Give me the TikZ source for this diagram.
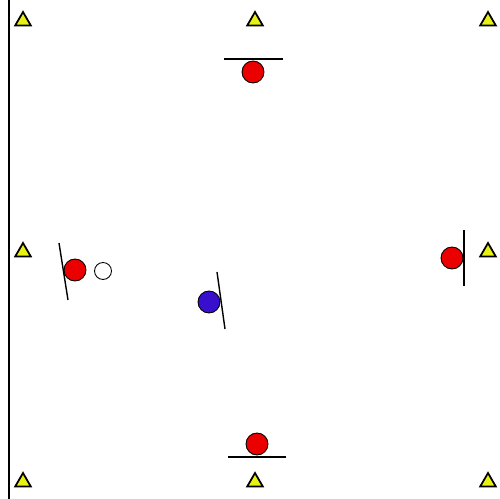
\documentclass[tikz,border=0pt]{standalone}
\usepackage{xcolor}
\usetikzlibrary{shapes.geometric}

\definecolor{coneyellow}{RGB}{232,240,20}
\definecolor{teamred}{RGB}{235,0,0}
\definecolor{teamblue}{RGB}{55,15,205}

\begin{document}
\begin{tikzpicture}[x=0.02cm,y=-0.02cm,
    cone/.style={draw, line width=1pt, fill=coneyellow, regular polygon, regular polygon sides=3, minimum size=0.36cm, inner sep=0pt},
    redplayer/.style={draw, line width=0.5pt, fill=teamred, circle, minimum size=0.44cm, inner sep=0pt},
    blueplayer/.style={draw, line width=0.5pt, fill=teamblue, circle, minimum size=0.44cm, inner sep=0pt},
    ball/.style={draw, line width=0.5pt, fill=white, circle, minimum size=0.34cm, inner sep=0pt},
    gate/.style={line width=0.8pt}]
        \useasboundingbox (0,0) rectangle (500,499);

        % Sideline
        \coordinate (l1) at (9,0);
        \coordinate (l2) at (9,499);
        \draw[line width=1.1pt] (l1) -- (l2);

        % Cones
        \node (k1) [cone] at (23,21) {};
        \node (k2) [cone] at (255,21) {};
        \node (k3) [cone] at (488,21) {};
        \node (k4) [cone] at (23,252) {};
        \node (k5) [cone] at (488,252) {};
        \node (k6) [cone] at (23,482) {};
        \node (k7) [cone] at (255,482) {};
        \node (k8) [cone] at (488,482) {};

        % Players
        \node (p1) [redplayer] at (253,72) {};
        \node (p2) [redplayer] at (75,270) {};
        \node (p3) [redplayer] at (452,258) {};
        \node (p4) [redplayer] at (257,444) {};
        \node (p5) [blueplayer] at (209,302) {};
        \node (b1) [ball] at (103,271) {};

        % Body lines
        \coordinate (g1a) at (224,59);  \coordinate (g1b) at (283,59);
        \coordinate (g2a) at (59,243);  \coordinate (g2b) at (68,300);
        \coordinate (g3a) at (464,230); \coordinate (g3b) at (464,286);
        \coordinate (g4a) at (228,457); \coordinate (g4b) at (286,457);
        \coordinate (g5a) at (217,272); \coordinate (g5b) at (225,329);
        \draw[gate] (g1a) -- (g1b);
        \draw[gate] (g2a) -- (g2b);
        \draw[gate] (g3a) -- (g3b);
        \draw[gate] (g4a) -- (g4b);
        \draw[gate] (g5a) -- (g5b);

    \end{tikzpicture}
\end{document}
